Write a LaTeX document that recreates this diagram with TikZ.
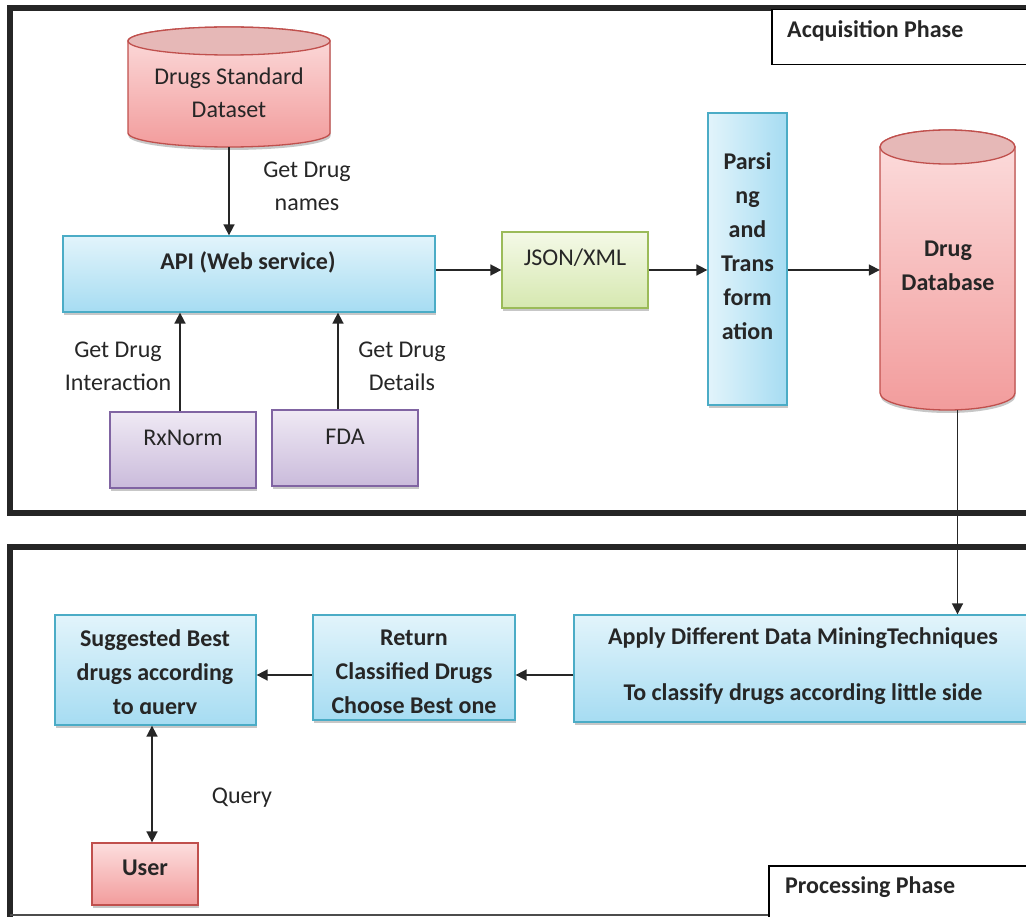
\documentclass[tikz,border=0pt]{standalone}
\usepackage{fontspec}
\setmainfont{Carlito}
\usetikzlibrary{arrows.meta,shadows,calc}
\definecolor{txtc}{HTML}{262626}
\definecolor{bluetop}{HTML}{E2F4FB}
\definecolor{bluebot}{HTML}{A6DCF2}
\definecolor{blueline}{HTML}{4BACC6}
\definecolor{purptop}{HTML}{EFE9F4}
\definecolor{purpbot}{HTML}{CABBDB}
\definecolor{purpline}{HTML}{8064A2}
\definecolor{greentop}{HTML}{F4F9E7}
\definecolor{greenbot}{HTML}{D6E8B0}
\definecolor{greenline}{HTML}{9BBB59}
\definecolor{redtop}{HTML}{FCDEDE}
\definecolor{redbot}{HTML}{F29C9C}
\definecolor{redline}{HTML}{C0504D}
\definecolor{redcap}{HTML}{E6B8B7}
\tikzset{
  shad/.style={drop shadow={shadow xshift=0.5pt, shadow yshift=-3pt, fill=black, opacity=0.22}},
  basebox/.style={draw, line width=1.3pt, inner sep=0, shad},
  bluebox/.style={basebox, draw=blueline, top color=bluetop, bottom color=bluebot},
  purpbox/.style={basebox, draw=purpline, top color=purptop, bottom color=purpbot},
  greenbox/.style={basebox, draw=greenline, top color=greentop, bottom color=greenbot},
  redbox/.style={basebox, draw=redline, top color=redtop, bottom color=redbot},
  lbl/.style={font=\fontsize{24}{33}\selectfont, text=txtc, align=center, inner sep=0},
  blbl/.style={lbl, font=\fontsize{24}{34}\selectfont\bfseries},
  conn/.style={line width=1.7pt, draw=black!85, -{Triangle[length=11pt,width=11pt]}},
  phase/.style={draw, line width=1.5pt, fill=white, inner sep=0},
  frame/.style={line width=6pt, draw=black!85},
}
\begin{document}
\begin{tikzpicture}[x=1pt,y=-1pt]
\useasboundingbox (0,0) rectangle (1026,917);
\clip (0,0) rectangle (1026,917);

% frames
\draw[frame] (1060,8) -- (10,8) -- (10,513) -- (1060,513);
\draw[frame] (1060,547) -- (10,547) -- (10,930);
\draw[line width=1.5pt, draw=black!70] (10,915) -- (1060,915);

% phase labels
\node[phase, minimum width=300pt, minimum height=55pt, anchor=north west] (acq) at (771,9) {};
\node[blbl, anchor=west] (acqt) at (787,31) {Acquisition Phase};
\node[phase, minimum width=300pt, minimum height=70pt, anchor=north west] (proc) at (768,865) {};
\node[blbl, anchor=west] (proct) at (785,887) {Processing Phase};

% Drugs Standard Dataset cylinder
\shade[top color=redtop, bottom color=redbot, draw=redline, line width=1.3pt, shad]
  (128,41) -- (128,133) arc[start angle=180, end angle=0, x radius=101, y radius=14]
  -- (330,41) arc[start angle=0, end angle=-180, x radius=101, y radius=14] -- cycle;
\draw[fill=redcap, draw=redline, line width=1.3pt] (229,41) ellipse [x radius=101, y radius=14];
\node[inner sep=0, minimum width=202pt, minimum height=120pt] (dsd) at (229,87) {};
\node[lbl] (dsdt) at (229,92.5) {Drugs Standard\\Dataset};

% Drug Database cylinder
\shade[top color=redtop, bottom color=redbot, draw=redline, line width=1.3pt, shad]
  (880,147) -- (880,393) arc[start angle=180, end angle=0, x radius=67.5, y radius=17]
  -- (1015,147) arc[start angle=0, end angle=-180, x radius=67.5, y radius=17] -- cycle;
\draw[fill=redcap, draw=redline, line width=1.3pt] (947.5,147) ellipse [x radius=67.5, y radius=17];
\node[inner sep=0, minimum width=135pt, minimum height=280pt] (ddb) at (947.5,270) {};
\node[blbl] (ddbt) at (948,266) {Drug\\Database};

% boxes
\node[bluebox, minimum width=372pt, minimum height=76pt] (api) at (249,274) {};
\node[blbl] (apit) at (248,262) {API (Web service)};
\node[purpbox, minimum width=146pt, minimum height=76pt] (rx) at (183,450) {};
\node[lbl] (rxt) at (183,438) {RxNorm};
\node[purpbox, minimum width=146pt, minimum height=76pt] (fda) at (345,448) {};
\node[lbl] (fdat) at (345,437) {FDA};
\node[greenbox, minimum width=146pt, minimum height=76pt] (json) at (575,270) {};
\node[lbl] (jsont) at (575,258) {JSON/XML};
\node[basebox, draw=blueline, left color=bluetop, right color=bluebot, minimum width=79pt, minimum height=292pt] (pars) at (747.5,259) {};
\node[blbl] (parst) at (747.5,246.5) {Parsi\\ng\\and\\Trans\\form\\ation};

\node[bluebox, minimum width=458pt, minimum height=107pt] (apply) at (803,668.5) {};
\node[blbl] (applyt) at (803,666) {Apply Different Data MiningTechniques\\[22pt]To classify drugs according little side};
\node[bluebox, minimum width=202pt, minimum height=105pt] (ret) at (414,667.5) {};
\node[blbl] (rett) at (414,672) {Return\\Classified Drugs\\Choose Best one};
\node[bluebox, minimum width=201pt, minimum height=110pt] (sug) at (155.5,670) {};
\begin{scope}
  \clip (56,616) rectangle (255,713);
  \node[blbl] (sugt) at (155,674) {Suggested Best\\drugs according\\to query};
\end{scope}
\node[redbox, minimum width=106pt, minimum height=62pt] (user) at (145,874) {};
\node[blbl] (usert) at (145,868) {User};

% edge labels
\node[lbl] (l1) at (307,186.5) {Get Drug\\names};
\node[lbl] (l2) at (118,366.5) {Get Drug\\Interaction};
\node[lbl] (l3) at (402,366.5) {Get Drug\\Details};
\node[lbl] (l4) at (242,798) {Query};

% connectors
\draw[conn] (dsd.south) -- (dsd.south |- api.north);
\draw[conn] ([xshift=-3pt]rx.north) -- ([xshift=-3pt]rx.north |- api.south);
\draw[conn] ([xshift=-7pt]fda.north) -- ([xshift=-7pt]fda.north |- api.south);
\draw[conn] (api.east |- json.west) -- (json.west);
\draw[conn] (json.east) -- (json.east -| pars.west);
\draw[conn] (pars.east |- json.east) -- (ddb.west |- json.east);
\draw[conn] ([xshift=10pt]ddb.south) -- ([xshift=10pt]ddb.south |- apply.north);
\draw[conn] ([yshift=-6.5pt]apply.west) -- ([yshift=-6.5pt]apply.west -| ret.east);
\draw[conn] ([yshift=-7.5pt]ret.west) -- ([yshift=-7.5pt]ret.west -| sug.east);
\draw[conn, {Triangle[length=11pt,width=11pt]}-{Triangle[length=11pt,width=11pt]}] ([xshift=7pt]user.north) -- ([xshift=7pt]user.north |- sug.south);
\end{tikzpicture}
\end{document}
